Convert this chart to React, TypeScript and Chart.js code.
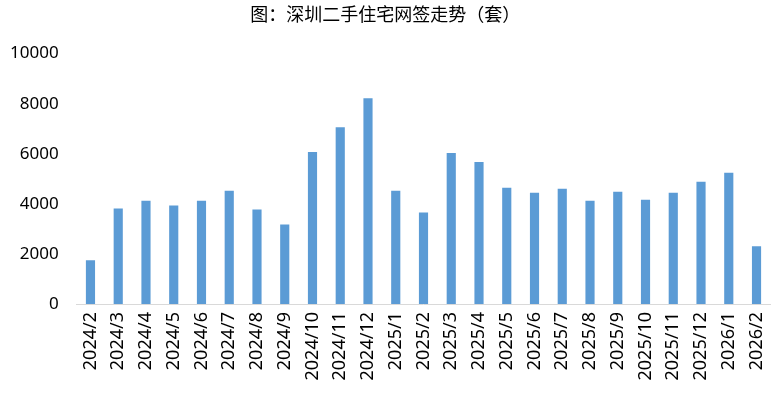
import React, { useEffect, useRef } from "react";
import { Chart, registerables } from "chart.js";

Chart.register(...registerables);

const titleText = "图：深圳二手住宅网签走势（套）";

const categories = [
  "2024/2", "2024/3", "2024/4", "2024/5", "2024/6", "2024/7", "2024/8", "2024/9",
  "2024/10", "2024/11", "2024/12", "2025/1", "2025/2", "2025/3", "2025/4", "2025/5",
  "2025/6", "2025/7", "2025/8", "2025/9", "2025/10", "2025/11", "2025/12", "2026/1", "2026/2",
];

const transactions = [
  1746, 3810, 4127, 3929, 4127, 4524, 3770, 3175,
  6071, 7063, 8214, 4524, 3651, 6032, 5675, 4643,
  4444, 4603, 4127, 4484, 4167, 4444, 4881, 5238, 2302,
];

const yMin = 0;
const yMax = 10000;
const yStep = 2000;

export default function App() {
  const canvasRef = useRef<HTMLCanvasElement | null>(null);

  useEffect(() => {
    const canvas = canvasRef.current;
    if (!canvas) return;
    const chart = new Chart(canvas, {
      type: "bar",
      data: {
        labels: categories,
        datasets: [
          {
            label: "网签套数",
            data: transactions,
            backgroundColor: "#5B9BD5",
            borderWidth: 0,
            categoryPercentage: 1,
            barPercentage: 0.33,
          },
        ],
      },
      options: {
        responsive: false,
        animation: false,
        maintainAspectRatio: false,
        layout: { padding: { left: 0, right: 9.6, top: 0, bottom: 0 } },
        plugins: {
          legend: { display: false },
          tooltip: { enabled: false },
          title: {
            display: true,
            text: titleText,
            color: "#000",
            font: { family: "'Noto Sans CJK SC', sans-serif", size: 18, weight: "normal" },
            padding: { top: 3, bottom: 29 },
          },
        },
        scales: {
          x: {
            grid: { display: false, drawTicks: false },
            border: { display: true, color: "#d9d9d9", width: 1 },
            ticks: {
              autoSkip: false,
              maxRotation: 90,
              minRotation: 90,
              padding: 8,
              color: "#000",
              font: { family: "'Noto Sans', sans-serif", size: 18 },
            },
            afterFit: (scale: any) => {
              scale.height = 95;
              scale.paddingLeft = 0;
              scale.paddingRight = 0;
            },
          },
          y: {
            min: yMin,
            max: yMax,
            grid: { display: false, drawTicks: false },
            border: { display: false },
            ticks: {
              stepSize: yStep,
              padding: 18,
              color: "#000",
              font: { family: "'Noto Sans', sans-serif", size: 17 },
              callback: (v: any) => String(v),
            },
            afterFit: (scale: any) => {
              scale.width = 76.6;
              scale.paddingTop = 0;
              scale.paddingBottom = 0;
            },
          },
        },
      },
    });
    return () => chart.destroy();
  }, []);

  return (
    <div style={{ position: "fixed", left: 0, top: 0, width: 780, height: 399, background: "#fff" }}>
      <canvas ref={canvasRef} width={780} height={399} style={{ width: 780, height: 399 }} />
    </div>
  );
}
